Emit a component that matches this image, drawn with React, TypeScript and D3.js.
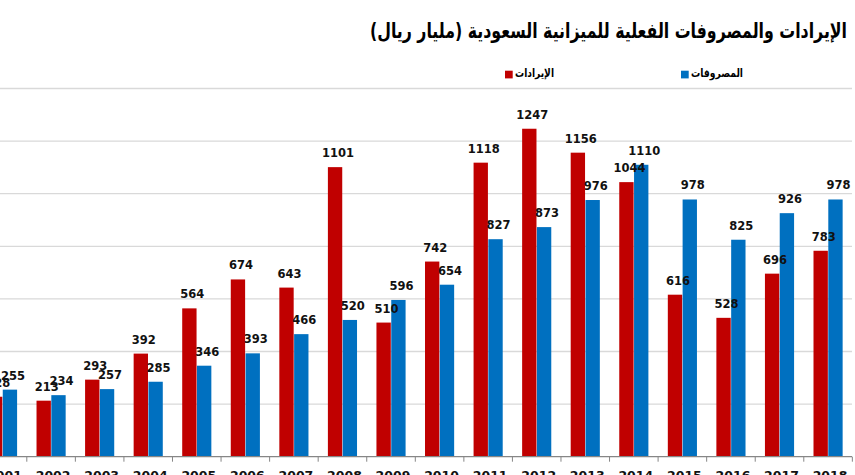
import React from "react";
import * as d3 from "d3";

const years = ["2001", "2002", "2003", "2004", "2005", "2006", "2007", "2008", "2009",
  "2010", "2011", "2012", "2013", "2014", "2015", "2016", "2017", "2018"];
// الإيرادات
const revenues = [228, 213, 293, 392, 564, 674, 643, 1101, 510, 742, 1118, 1247, 1156, 1044, 616, 528, 696, 783];
// المصروفات
const expenses = [255, 234, 257, 285, 346, 393, 466, 520, 596, 654, 827, 873, 976, 1110, 978, 825, 926, 978];
const gridValues = [200, 400, 600, 800, 1000, 1200, 1400];

const titleText = "الإيرادات والمصروفات الفعلية للميزانية السعودية (مليار ريال)";
const revLabel = "الإيرادات";
const expLabel = "المصروفات";

const RED = "#C00000";
const BLUE = "#0070C0";

export default function App() {
  const W = 855, H = 475;

  const x0 = d3.scaleBand().domain(years).range([-21.75, 852.35]).paddingInner(0.4).paddingOuter(0.2);
  const x1 = d3.scaleBand().domain(["rev", "exp"]).range([0, x0.bandwidth()]).paddingInner(0.03);
  const y = d3.scaleLinear().domain([0, 1400]).range([456.7, 88.5]);

  const step = x0.step();
  const boundaries = years.map(yr => x0(yr) - step * 0.2).concat([x0(years[years.length - 1]) + x0.bandwidth() + step * 0.2]);

  const series = [
    { key: "rev", values: revenues, color: RED },
    { key: "exp", values: expenses, color: BLUE },
  ];

  const labelFont = { fontFamily: "DejaVu Sans", fontWeight: "bold", fontSize: 11.5 };
  const legendFont = { fontFamily: "DejaVu Sans", fontWeight: "bold", fontSize: 11.5 };

  return (
    <div style={{ position: "absolute", left: 0, top: 0 }}>
      <svg width={W} height={H} style={{ display: "block", background: "#fff" }}>
        {/* grid */}
        {gridValues.map(v => (
          <line key={v} x1={0} x2={852} y1={y(v)} y2={y(v)} stroke="#d9d9d9" strokeWidth={1.3} />
        ))}

        {/* title */}
        <text x={847} y={37.5} textAnchor="start" direction="rtl" textLength={477} lengthAdjust="spacingAndGlyphs"
          style={{ fontFamily: "DejaVu Sans", fontWeight: "bold", fontSize: 21 }} fill="#000">
          {titleText}
        </text>

        {/* legend */}
        <rect x={505} y={70.7} width={7.7} height={7.7} fill={RED} />
        <text x={515} y={77} textLength={39} lengthAdjust="spacingAndGlyphs" style={legendFont} fill="#000">{revLabel}</text>
        <rect x={681} y={70.7} width={7.7} height={7.7} fill={BLUE} />
        <text x={691} y={77} textLength={52} lengthAdjust="spacingAndGlyphs" style={legendFont} fill="#000">{expLabel}</text>

        {/* bars */}
        {series.map(s => (
          <g key={s.key}>
            {years.map((yr, i) => (
              <rect key={yr} x={x0(yr) + x1(s.key)} y={y(s.values[i])}
                width={x1.bandwidth()} height={y(0) - y(s.values[i])} fill={s.color} />
            ))}
          </g>
        ))}

        {/* value labels */}
        {series.map(s => (
          <g key={s.key + "-lbl"}>
            {years.map((yr, i) => (
              <text key={yr} x={x0(yr) + x1(s.key) + x1.bandwidth() / 2 + 3} y={y(s.values[i]) - 10}
                textAnchor="middle" style={labelFont} fill="#111">
                {s.values[i]}
              </text>
            ))}
          </g>
        ))}

        {/* x axis */}
        <line x1={0} x2={852} y1={y(0)} y2={y(0)} stroke="#868686" strokeWidth={1.2} />
        {boundaries.map((b, i) => (
          <line key={i} x1={b} x2={b} y1={y(0)} y2={y(0) + 5} stroke="#868686" strokeWidth={1} />
        ))}
        {years.map(yr => (
          <text key={yr} x={x0(yr) + x0.bandwidth() / 2 + 2} y={480} textAnchor="middle"
            style={{ fontFamily: "DejaVu Sans", fontWeight: "bold", fontSize: 12.5 }} fill="#111">
            {yr}
          </text>
        ))}
      </svg>
    </div>
  );
}
